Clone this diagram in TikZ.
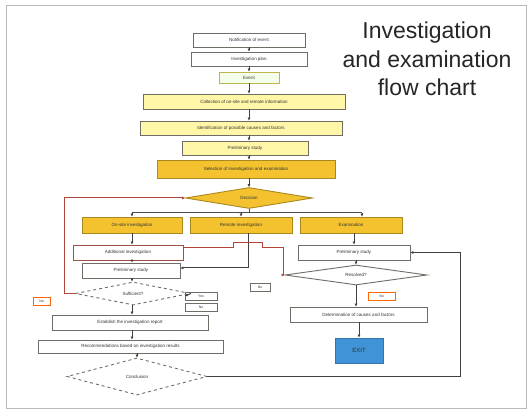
\documentclass[tikz,border=0pt]{standalone}
\usepackage{fontspec}
\setmainfont{Liberation Sans}
\usetikzlibrary{shapes.geometric,arrows.meta}
\definecolor{lyel}{HTML}{FFF6A8}
\definecolor{gold}{HTML}{F3C22E}
\definecolor{edge}{HTML}{6E6E66}
\definecolor{redl}{HTML}{B0463A}
\definecolor{exitb}{HTML}{3F93D6}
\begin{document}
\begin{tikzpicture}[x=1pt,y=-1pt,
  bx/.style={draw=edge, line width=0.9pt, inner sep=0pt, font=\fontsize{4.5}{5}\selectfont, text=black!80},
  wbox/.style={bx, fill=white},
  ybox/.style={bx, fill=lyel},
  gbox/.style={bx, fill=gold, draw=gold!70!black},
  dia/.style={bx, diamond, aspect=5, fill=white},
  tag/.style={bx, fill=white, line width=0.6pt, font=\fontsize{3.5}{4}\selectfont},
  arr/.style={draw=black!75, line width=1pt, -{Latex[length=3pt,width=3pt]}},
  ln/.style={draw=black!70, line width=1pt},
  rln/.style={draw=redl, line width=1pt}
]
\useasboundingbox (0,0) rectangle (531,414);
\fill[white] (0,0) rectangle (531,414);
\draw[gray!55, line width=1pt] (6,6) rectangle (526,409);

% title
\node[font=\fontsize{23}{28.5}\selectfont, align=center, text=black!85] (title) at (427,59)
  {Investigation\\and examination\\flow chart};

% main spine
\node[wbox, minimum width=112pt, minimum height=14pt] (a) at (249,40) {Notification of event};
\node[wbox, minimum width=116pt, minimum height=14pt] (b) at (249,59) {Investigation plan};
\node[bx, fill=lyel!70!green!15, draw=olive!60, minimum width=60pt, minimum height=11pt] (c) at (249,77.5) {Event};
\node[ybox, minimum width=202pt, minimum height=15pt] (d) at (244,101.5) {Collection of on-site and remote information};
\node[ybox, minimum width=202pt, minimum height=14pt] (e) at (241,128) {Identification of possible causes and factors};
\node[ybox, minimum width=126pt, minimum height=14pt] (f) at (245,148) {Preliminary study};
\node[gbox, minimum width=178pt, minimum height=18pt] (g) at (246,169) {Selection of investigation and examination};
\node[gbox, diamond, aspect=6.3, minimum width=127pt, minimum height=21pt, inner sep=0pt] (h) at (249,198) {Decision};

\coordinate (bus) at (249,213);
\coordinate (busl) at (132,213);
\coordinate (busm) at (241,213);
\coordinate (busr) at (362,213);

% branch boxes
\node[gbox, minimum width=100pt, minimum height=16pt] (i1) at (132,225) {On-site investigation};
\node[gbox, minimum width=102pt, minimum height=16pt] (i2) at (241,225) {Remote investigation};
\node[gbox, minimum width=102pt, minimum height=16pt] (i3) at (351,225) {Examination};

% left column
\node[wbox, draw=redl!70!edge, minimum width=110pt, minimum height=15pt] (l1) at (128,252.5) {Additional investigation};
\node[wbox, minimum width=98pt, minimum height=15pt] (l2) at (131,270.5) {Preliminary study};
\node[dia, dashed, aspect=5, minimum width=115pt, minimum height=23pt] (k) at (133,293.5) {Sufficient?};
\node[tag, minimum width=32pt, minimum height=8pt] (yes1) at (201,296) {Yes};
\node[tag, minimum width=32pt, minimum height=8pt] (no1) at (201,307) {No};
\node[tag, draw=orange!80!red, minimum width=17pt, minimum height=8pt] (no0) at (41.5,301) {No};
\node[wbox, minimum width=156pt, minimum height=15pt] (p) at (130,322.5) {Establish the investigation report};
\node[wbox, minimum width=185pt, minimum height=13pt] (q) at (130.5,346.5) {Recommendations based on investigation results};
\node[dia, dashed, aspect=3.8, minimum width=140pt, minimum height=37pt] (n) at (137,376.5) {Conclusion};

% middle tag
\node[tag, minimum width=20pt, minimum height=8pt] (no2) at (260,287) {No};

% right column
\node[wbox, minimum width=112pt, minimum height=15pt] (m) at (354,252.5) {Preliminary study};
\node[dia, aspect=7, minimum width=142pt, minimum height=20pt] (j) at (356,275) {Resolved?};
\node[tag, draw=orange!80!red, minimum width=27pt, minimum height=8pt] (no3) at (381.5,296) {No};
\node[wbox, minimum width=137pt, minimum height=15pt] (o) at (358.5,314.5) {Determination of causes and factors};
\node[bx, fill=exitb, draw=exitb!80!black, minimum width=48pt, minimum height=25pt, font=\fontsize{6}{7}\selectfont, text=black!80] (exit) at (359,350.5) {EXIT};

% spine connectors
\draw[arr] (a) -- (b);
\draw[arr] (b) -- (c);
\draw[arr] (c.south) -- (d.north -| c.south);
\draw[arr] (d.south -| c.south) -- (e.north -| c.south);
\draw[arr] (e.south -| c.south) -- (f.north -| c.south);
\draw[arr] (f.south -| c.south) -- (g.north -| c.south);
\draw[arr] (g.south -| c.south) -- (h.north);
\draw[ln] (h.south) -- (bus);
\draw[ln] (busl) -- (busr);
\draw[arr] (busl) -- (i1.north);
\draw[arr] (busm) -- (i2.north);
\draw[arr] (busr) -- (i3.north -| busr);

% left column connectors
\draw[arr] (i1.south) -- (l1.north -| i1.south);
\draw[arr] (l1.south -| i1.south) -- (l2.north -| i1.south);
\draw[arr] (l2.south -| i1.south) -- (k.north -| i1.south);
\draw[arr] (k.south -| i1.south) -- (p.north -| i1.south);
\draw[arr] (p.south -| i1.south) -- (q.north -| i1.south);
\draw[arr] (q.south -| n.north) -- (n.north);
\draw[arr] (k.east) -- (yes1.west);
\draw[rln, -{Latex[length=3pt,width=3pt]}] (k.west) -- (64,293.5) -- (64,198) -- (h.west);

% middle connectors
\draw[arr] (i2.south -| 248,0) -- (248,268) -- (l2.east |- 0,268);
\draw[rln, -{Latex[length=3pt,width=3pt]}] (l1.east |- 0,248) -- (233,248) -- (233,243) -- (262,243) -- (262,248) -- (283,248) -- (283,275) -- (j.west);

% right column connectors
\draw[arr] (i3.south -| m.north) -- (m.north);
\draw[arr] (m.south -| j.north) -- (j.north);
\draw[arr] (j.south) -- (o.north -| j.south);
\draw[arr] (o.south -| exit.north) -- (exit.north);
\draw[arr] (n.east) -- (460,376.5) -- (460,252.5) -- (m.east);
\end{tikzpicture}
\end{document}
